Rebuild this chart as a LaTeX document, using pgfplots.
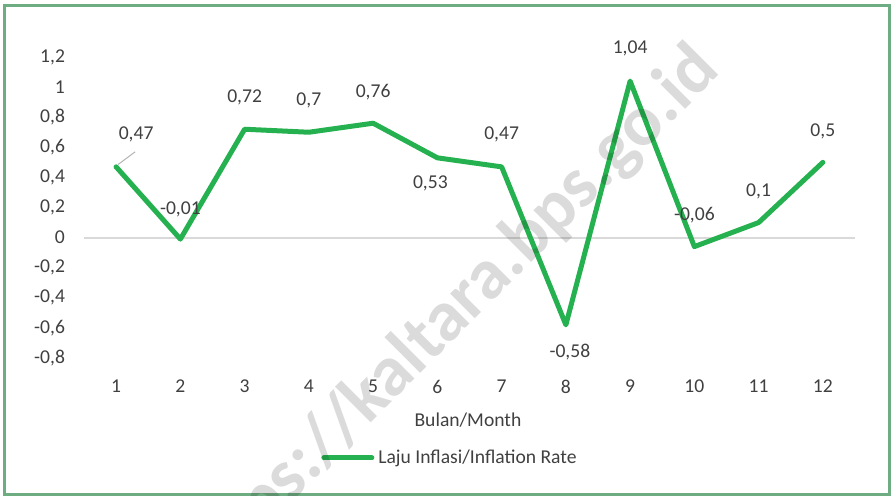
\documentclass[border=0pt]{standalone}
\usepackage{pgfplots}
\pgfplotsset{compat=1.18}
\usepackage{pgfplotstable}
\usepackage{fontspec}
\setmainfont{Carlito}
\definecolor{linegreen}{RGB}{38,177,80}
\definecolor{framegreen}{RGB}{110,172,130}
\definecolor{txt}{RGB}{64,64,64}
\definecolor{zerogray}{RGB}{217,217,217}
\pgfplotstableread{
x y lab dx dy
1 0.47 0,47 10 16
2 -0.01 -0,01 0 15
3 0.72 0,72 0 16
4 0.70 0,7 0 16
5 0.76 0,76 0 15.5
6 0.53 0,53 -3.5 -13
7 0.47 0,47 0 16
8 -0.58 -0,58 2 -13.5
9 1.04 1,04 0 16.5
10 -0.06 -0,06 0 15.5
11 0.10 0,1 0 15.5
12 0.50 0,5 0 15.5
}\datatable
\begin{document}
\begin{tikzpicture}
\useasboundingbox (0,0) rectangle (445.5pt,248pt);
\begin{axis}[
  at={(42pt,69pt)}, anchor=south west,
  scale only axis, width=385.5pt, height=150.5pt,
  xmin=0.5, xmax=12.5, ymin=-0.8, ymax=1.2,
  axis line style={draw=none},
  major tick length=0pt,
  xtick={1,...,12},
  ytick={-0.8,-0.6,-0.4,-0.2,0,0.2,0.4,0.6,0.8,1,1.2},
  /pgf/number format/assume math mode=true,
  /pgf/number format/use comma,
  ticklabel style={font=\fontsize{9.8}{11}\selectfont, text=txt},
  y tick label style={xshift=-6pt},
  x tick label style={yshift=-7.5pt},
  xlabel={Bulan/Month},
  xlabel style={font=\fontsize{9.8}{11}\selectfont, text=txt, at={(axis description cs:0.498,0)}, anchor=center, yshift=-31pt},
  legend style={at={(axis description cs:0.476,-0.332)}, anchor=center, draw=none, fill=none,
    font=\fontsize{9.8}{11}\selectfont, text=txt, inner sep=0pt},
  legend image code/.code={\draw[#1] (0pt,0pt) -- (24pt,0pt);},
  clip=false,
]
\draw[zerogray, line width=1pt] (axis cs:0.5,0) -- (axis cs:12.5,0);
\addplot[linegreen, line width=2.5pt, line join=round, line cap=round,
  nodes near coords, point meta=explicit symbolic,
  visualization depends on={\thisrow{dx} \as \dx},
  visualization depends on={\thisrow{dy} \as \dy},
  every node near coord/.append style={anchor=center, xshift=\dx pt, yshift=\dy pt,
    font=\fontsize{9.8}{11}\selectfont, text=txt}]
  table[x=x, y=y, meta=lab] {\datatable};
\addlegendentry{Laju Inflasi/Inflation Rate}
\draw[gray!60, line width=0.5pt] ([xshift=1pt,yshift=1.2pt]axis cs:1,0.47) -- ([xshift=9.5pt,yshift=7.5pt]axis cs:1,0.47);
\end{axis}
\draw[framegreen, line width=1.5pt] (2.25pt,0.75pt) rectangle (444.5pt,245.25pt);
\begin{scope}
\clip (0,0) rectangle (445.5pt,248pt);
\node[rotate=45, font=\fontsize{36}{36}\selectfont\bfseries, text=black, opacity=0.14, inner sep=0pt] at (224.5pt,89pt) {https://kaltara.bps.go.id};
\end{scope}
\end{tikzpicture}
\end{document}
